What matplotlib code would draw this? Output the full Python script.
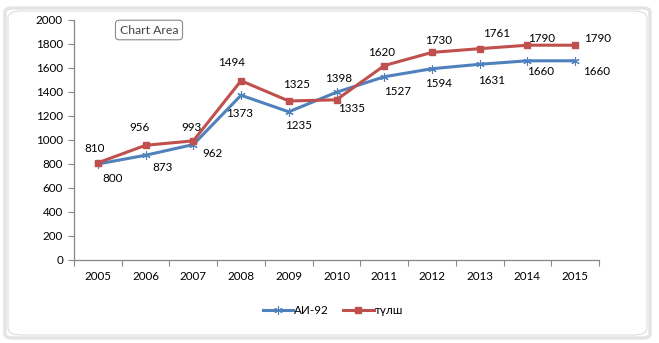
import matplotlib.pyplot as plt
from matplotlib.patches import FancyBboxPatch

plt.rcParams['font.family'] = ['Lato', 'DejaVu Sans']

years = ['2005', '2006', '2007', '2008', '2009', '2010', '2011', '2012', '2013', '2014', '2015']
ai92 = [800, 873, 962, 1373, 1235, 1398, 1527, 1594, 1631, 1660, 1660]
tulsh = [810, 956, 993, 1494, 1325, 1335, 1620, 1730, 1761, 1790, 1790]

# where each value label sits relative to its point, in pixels (x right, y down)
ai92_off = [(15, 15), (17, 12), (19, 9), (-1, 18), (10, 14), (2, -14),
            (13, 15), (7, 15), (12, 16), (13, 11), (21, 11)]
tulsh_off = [(-3, -14), (-6, -18), (-2, -13), (-9, -18), (8, -16), (15, 9),
             (-3, -13), (7, -12), (17, -15), (14, -7), (22, -7)]

blue = '#4f81bd'
red = '#c0504d'
axis_col = '#868686'
fs = 8.4

W, H = 659, 343
fig = plt.figure(figsize=(W / 100, H / 100), dpi=100)
ax = fig.add_axes([74 / W, 1 - 260 / H, (599 - 74) / W, (260 - 20) / H])

x = list(range(len(years)))
ax.plot(x, ai92, color=blue, lw=2.2, marker=(6, 2, 0), ms=6, mew=0.8,
        mec=blue, label='АИ-92', zorder=3)
ax.plot(x, tulsh, color=red, lw=2.2, marker='s', ms=4.5, mec=red,
        label='түлш', zorder=3)

pt = 72 / 100
for i in x:
    dx, dy = ai92_off[i]
    ax.annotate(str(ai92[i]), (i, ai92[i]), xytext=(dx * pt, -dy * pt),
                textcoords='offset points', ha='center', va='center', fontsize=fs)
    dx, dy = tulsh_off[i]
    ax.annotate(str(tulsh[i]), (i, tulsh[i]), xytext=(dx * pt, -dy * pt),
                textcoords='offset points', ha='center', va='center', fontsize=fs)

ax.set_xlim(-0.5, len(years) - 0.5)
ax.set_ylim(0, 2000)
ax.set_yticks(range(0, 2001, 200))
ax.tick_params(axis='y', length=4, color=axis_col, labelsize=fs, pad=4)

# tick marks between categories, labels under category centres
ax.set_xticks([i - 0.5 for i in range(len(years) + 1)])
ax.set_xticklabels([])
ax.set_xticks(x, minor=True)
ax.set_xticklabels(years, minor=True, fontsize=fs)
ax.tick_params(axis='x', which='major', length=4, color=axis_col)
ax.tick_params(axis='x', which='minor', length=0, pad=8)

for s in ['top', 'right']:
    ax.spines[s].set_visible(False)
for s in ['left', 'bottom']:
    ax.spines[s].set_color(axis_col)
    ax.spines[s].set_linewidth(0.9)

fig.legend(loc='center', bbox_to_anchor=(333 / W, 1 - 311 / H), ncol=2,
           frameon=False, fontsize=fs, handlelength=2.6, handletextpad=0.1,
           columnspacing=1.2)

# chart area frame
frame = FancyBboxPatch((5 / W, 5 / H), (650 - 5) / W, (335 - 5) / H,
                       boxstyle='round,pad=0,rounding_size=0.012',
                       transform=fig.transFigure, fill=False,
                       ec='#e4e4e4', lw=2.5, zorder=0)
fig.patches.append(frame)
inner = FancyBboxPatch((8 / W, 8 / H), (647 - 8) / W, (332 - 8) / H,
                       boxstyle='round,pad=0,rounding_size=0.02',
                       transform=fig.transFigure, fill=False,
                       ec='#d2d2d2', lw=0.6, zorder=0)
fig.patches.append(inner)

fig.text(149 / W, 1 - 30 / H, 'Chart Area', ha='center', va='center',
         fontsize=8.8, color='#444444',
         bbox=dict(boxstyle='round,pad=0.35,rounding_size=0.3', fc='white',
                   ec='#8a8a8a', lw=0.8))

fig.savefig('out.png', dpi=100)
